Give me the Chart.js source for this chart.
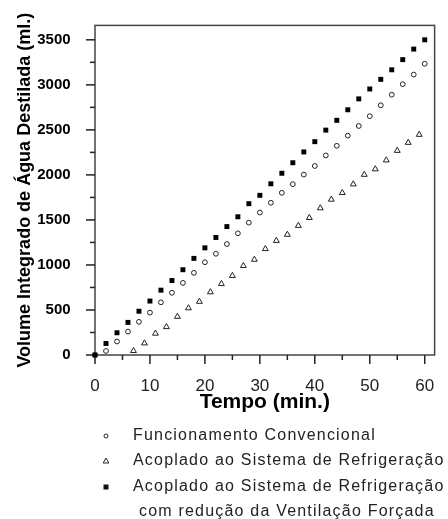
<!DOCTYPE html>
<html>
<head>
<meta charset="utf-8">
<script src="https://cdn.jsdelivr.net/npm/chart.js@4.4.1/dist/chart.umd.min.js"></script>
<style>
html, body { margin: 0; padding: 0; background: #fff; }
#wrap { position: relative; width: 448px; height: 519px; }
</style>
</head>
<body>
<div id="wrap"><canvas id="grafico"></canvas></div>
<script>
var FONT = '"Liberation Sans", Arial, sans-serif';

// tempos (min.)
var tempoPar   = [0, 2, 4, 6, 8, 10, 12, 14, 16, 18, 20, 22, 24, 26, 28, 30,
                  32, 34, 36, 38, 40, 42, 44, 46, 48, 50, 52, 54, 56, 58, 60];
var tempoImpar = [7, 9, 11, 13, 15, 17, 19, 21, 23, 25, 27, 29, 31, 33,
                  35, 37, 39, 41, 43, 45, 47, 49, 51, 53, 55, 57, 59];

// volume integrado (ml.)
var convencional = [0, 45, 150, 260, 368, 471, 585, 691, 801, 912, 1030, 1124, 1232, 1351, 1470, 1582,
                    1691, 1801, 1897, 2003, 2099, 2216, 2323, 2436, 2543, 2652, 2773, 2890, 3007, 3114, 3234];
var refrigeracao = [46, 131, 239, 312, 426, 521, 593, 699, 790, 880, 990, 1060, 1178, 1269,
                    1337, 1436, 1524, 1631, 1727, 1801, 1897, 2003, 2064, 2163, 2269, 2358, 2447];
var refrigVentilacao = [0, 128, 247, 362, 486, 599, 720, 827, 947, 1073, 1190, 1305, 1426, 1535, 1680, 1773,
                        1901, 2018, 2135, 2255, 2369, 2497, 2606, 2723, 2844, 2954, 3061, 3167, 3280, 3397, 3500];

var legendas = [
  ['Funcionamento Convencional'],
  ['Acoplado ao Sistema de Refrigeração'],
  ['Acoplado ao Sistema de Refrigeração', 'com redução da Ventilação Forçada']
];

function pontos(xs, ys) {
  return xs.map(function (x, i) { return { x: x, y: ys[i] }; });
}

function linha(ctx, x1, y1, x2, y2) {
  ctx.beginPath(); ctx.moveTo(x1, y1); ctx.lineTo(x2, y2); ctx.stroke();
}

function marcador(ctx, estilo, x, y) {
  ctx.save();
  ctx.strokeStyle = '#222'; ctx.fillStyle = '#111'; ctx.lineWidth = 1;
  ctx.beginPath();
  if (estilo == 'circle') {
    ctx.arc(x, y, 2, 0, Math.PI * 2); ctx.stroke();
  } else if (estilo == 'triangle') {
    ctx.moveTo(x, y - 3); ctx.lineTo(x + 2.8, y + 2); ctx.lineTo(x - 2.8, y + 2); ctx.closePath(); ctx.stroke();
  } else {
    ctx.fillRect(x - 2.5, y - 2.5, 5, 5);
  }
  ctx.restore();
}

// moldura, marcas dos eixos e legenda
var moldura = {
  id: 'moldura',
  beforeDatasetsDraw: function (chart) {
    var ctx = chart.ctx, a = chart.chartArea, sx = chart.scales.x, sy = chart.scales.y;
    ctx.save();
    ctx.strokeStyle = '#444'; ctx.lineWidth = 1.5;
    ctx.strokeRect(a.left, a.top, a.right - a.left, a.bottom - a.top);
    ctx.strokeStyle = '#222';
    sy.ticks.forEach(function (t) {
      if (t.value % 250) return;
      var y = sy.getPixelForValue(t.value), len = t.value % 500 ? 5 : 9;
      linha(ctx, a.left - len, y, a.left, y);
    });
    sx.ticks.forEach(function (t) {
      if (t.value % 5) return;
      var x = sx.getPixelForValue(t.value), len = t.value % 10 ? 5 : 9;
      linha(ctx, x, a.bottom, x, a.bottom + len);
    });
    ctx.restore();
  },
  afterDraw: function (chart) {
    var ctx = chart.ctx, ds = chart.data.datasets;
    var linhasY = [436, 461, 487, 512], k = 0;
    ctx.save();
    ctx.font = '16px ' + FONT;
    ctx.fillStyle = '#222';
    ctx.textBaseline = 'middle';
    if ('letterSpacing' in ctx) ctx.letterSpacing = '1.2px';
    legendas.forEach(function (txt, i) {
      marcador(ctx, ds[i].pointStyle, 106, linhasY[k]);
      txt.forEach(function (s, j) {
        ctx.fillText(s, j ? 139 : 133, linhasY[k]);
        k++;
      });
    });
    ctx.restore();
  }
};

new Chart(document.getElementById('grafico').getContext('2d'), {
  type: 'scatter',
  data: {
    datasets: [
      { label: legendas[0].join(' '), data: pontos(tempoPar, convencional), pointStyle: 'circle', order: 1,
        pointRadius: 2.4, borderWidth: 1, borderColor: '#222', backgroundColor: '#fff', clip: false },
      { label: legendas[1].join(' '), data: pontos(tempoImpar, refrigeracao), pointStyle: 'triangle', order: 1,
        pointRadius: 3.4, borderWidth: 1, borderColor: '#222', backgroundColor: '#fff', clip: false },
      { label: legendas[2].join(' '), data: pontos(tempoPar, refrigVentilacao), pointStyle: 'rect', order: 0,
        pointRadius: 3.5, borderWidth: 0, borderColor: '#000', backgroundColor: '#000', clip: false }
    ]
  },
  options: {
    responsive: true,
    maintainAspectRatio: false,
    animation: false,
    layout: { padding: { left: 0, right: 11, top: 11, bottom: 104 } },
    plugins: { legend: { display: false }, tooltip: { enabled: false } },
    scales: {
      x: {
        type: 'linear', min: 0, max: 61.8,
        grid: { display: false }, border: { display: false },
        ticks: { stepSize: 5, includeBounds: false, autoSkip: false, maxRotation: 0, padding: 13.5, color: '#222',
                 font: { family: FONT, size: 17 },
                 callback: function (v) { return v % 10 === 0 ? v : ''; } },
        title: { display: true, text: 'Tempo (min.)', color: '#000', padding: { top: 0, bottom: 0 },
                 font: { family: FONT, size: 21, weight: 'bold' } },
        afterFit: function (s) { s.height = 60; }
      },
      y: {
        type: 'linear', min: 0, max: 3660,
        grid: { display: false }, border: { display: false },
        ticks: { stepSize: 250, includeBounds: false, autoSkip: false, padding: 16.4, color: '#000',
                 font: { family: FONT, size: 15, weight: 'bold' },
                 callback: function (v) { return v % 500 === 0 ? v : ''; } },
        title: { display: true, text: 'Volume Integrado de Água Destilada (ml.)', color: '#000',
                 padding: { top: 14, bottom: 0 }, font: { family: FONT, size: 18, weight: 'bold' } },
        afterFit: function (s) { s.width = 95; }
      }
    }
  },
  plugins: [moldura]
});
</script>
</body>
</html>
